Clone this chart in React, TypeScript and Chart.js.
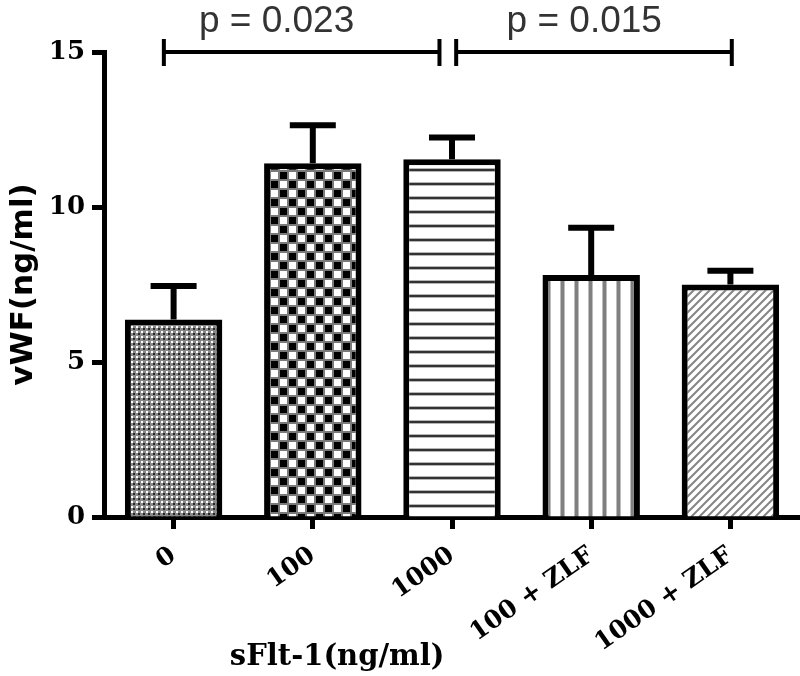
import React, { useEffect, useRef } from 'react';
import { Chart, registerables } from 'chart.js';

Chart.register(...registerables);

const categories = ['0', '100', '1000', '100 + ZLF', '1000 + ZLF'];
const means = [6.37, 11.41, 11.54, 7.81, 7.5];
const sems = [1.08, 1.23, 0.7, 1.52, 0.44];
const yMin = 0;
const yMax = 15;
const yStep = 5;
const yTitle = 'vWF(ng/ml)';
const xTitle = 'sFlt-1(ng/ml)';
const pLabels = ['p = 0.023', 'p = 0.015'];
const bracketFrom = [-0.07, 2.03];
const bracketTo = [1.91, 4.01];
const pLabelAt = [0.74, 2.95];
const bracketLevel = 15;
const patternKinds = ['dots', 'checker', 'hlines', 'vlines', 'diag'];

function makePattern(kind: string): CanvasPattern {
  const c = document.createElement('canvas');
  const g = c.getContext('2d') as CanvasRenderingContext2D;
  if (kind === 'dots') {
    c.width = 5; c.height = 5;
    g.fillStyle = '#8a8a8a'; g.fillRect(0, 0, 5, 5);
    g.fillStyle = '#ffffff'; g.fillRect(1, 1, 2, 2);
    g.fillStyle = '#2a2a2a'; g.fillRect(3, 3, 2, 2);
  } else if (kind === 'checker') {
    c.width = 18; c.height = 18;
    g.fillStyle = '#7a7a7a'; g.fillRect(0, 0, 18, 18);
    g.fillStyle = '#000000'; g.fillRect(1, 1, 7, 7); g.fillRect(10, 10, 7, 7);
    g.fillStyle = '#ffffff'; g.fillRect(10, 1, 7, 7); g.fillRect(1, 10, 7, 7);
  } else if (kind === 'hlines') {
    c.width = 4; c.height = 14;
    g.fillStyle = '#ffffff'; g.fillRect(0, 0, 4, 14);
    g.fillStyle = '#b5b5b5'; g.fillRect(0, 0, 4, 1); g.fillRect(0, 3, 4, 1);
    g.fillStyle = '#333333'; g.fillRect(0, 1, 4, 2);
  } else if (kind === 'vlines') {
    c.width = 14; c.height = 4;
    g.fillStyle = '#ffffff'; g.fillRect(0, 0, 14, 4);
    g.fillStyle = '#bdbdbd'; g.fillRect(0, 0, 1, 4); g.fillRect(4, 0, 1, 4);
    g.fillStyle = '#808080'; g.fillRect(1, 0, 3, 4);
  } else {
    c.width = 8; c.height = 8;
    g.fillStyle = '#ffffff'; g.fillRect(0, 0, 8, 8);
    g.strokeStyle = '#858585'; g.lineWidth = 2;
    g.beginPath();
    g.moveTo(-4, 4); g.lineTo(4, -4);
    g.moveTo(0, 8); g.lineTo(8, 0);
    g.moveTo(4, 12); g.lineTo(12, 4);
    g.stroke();
  }
  return g.createPattern(c, 'repeat') as CanvasPattern;
}

const errorBarPlugin = {
  id: 'errorBars',
  afterDatasetsDraw(chart: any) {
    const { ctx } = chart;
    const y = chart.scales.y;
    const meta = chart.getDatasetMeta(0);
    ctx.save();
    ctx.strokeStyle = '#000';
    ctx.lineWidth = 6;
    ctx.lineCap = 'butt';
    meta.data.forEach((bar: any, i: number) => {
      const top = y.getPixelForValue(means[i]);
      const cap = y.getPixelForValue(means[i] + sems[i]);
      ctx.beginPath();
      ctx.moveTo(bar.x, top);
      ctx.lineTo(bar.x, cap);
      ctx.moveTo(bar.x - 23, cap);
      ctx.lineTo(bar.x + 23, cap);
      ctx.stroke();
    });
    ctx.restore();
  },
};

const annotationPlugin = {
  id: 'annotations',
  afterDraw(chart: any) {
    const { ctx } = chart;
    const x = chart.scales.x;
    const y = chart.scales.y;
    ctx.save();
    const by = y.getPixelForValue(bracketLevel);
    ctx.strokeStyle = '#000';
    ctx.lineWidth = 4;
    for (let i = 0; i < pLabels.length; i++) {
      const x0 = x.getPixelForValue(bracketFrom[i]);
      const x1 = x.getPixelForValue(bracketTo[i]);
      ctx.beginPath();
      ctx.moveTo(x0, by); ctx.lineTo(x1, by);
      ctx.moveTo(x0, by - 13); ctx.lineTo(x0, by + 14);
      ctx.moveTo(x1, by - 13); ctx.lineTo(x1, by + 14);
      ctx.stroke();
      ctx.fillStyle = '#333';
      ctx.font = '37px "Liberation Sans"';
      ctx.textAlign = 'center';
      ctx.textBaseline = 'alphabetic';
      ctx.fillText(pLabels[i], x.getPixelForValue(pLabelAt[i]), by - 20);
    }
    ctx.save();
    ctx.translate(y.left + 24, (y.top + y.bottom) / 2);
    ctx.rotate(-Math.PI / 2);
    ctx.font = 'bold 31px "DejaVu Sans"';
    ctx.fillStyle = '#000';
    ctx.textAlign = 'center';
    ctx.textBaseline = 'middle';
    ctx.fillText(yTitle, 0, 0);
    ctx.restore();
    ctx.font = 'bold 29px "DejaVu Serif"';
    ctx.fillStyle = '#000';
    ctx.textAlign = 'center';
    ctx.textBaseline = 'alphabetic';
    ctx.fillText(xTitle, x.left + 0.335 * x.width, x.bottom - 11);
    ctx.restore();
  },
};

export default function App() {
  const ref = useRef<HTMLCanvasElement | null>(null);
  useEffect(() => {
    if (!ref.current) return;
    const chart = new Chart(ref.current, {
      type: 'bar',
      data: {
        labels: categories,
        datasets: [
          {
            data: means,
            backgroundColor: patternKinds.map(makePattern) as any,
            borderColor: '#000',
            borderWidth: 6,
            barPercentage: 0.7,
            categoryPercentage: 1,
          },
        ],
      },
      options: {
        animation: false,
        responsive: true,
        maintainAspectRatio: false,
        devicePixelRatio: 1,
        layout: { padding: { top: 52, left: 0, right: 0, bottom: 0 } },
        plugins: { legend: { display: false }, tooltip: { enabled: false } },
        scales: {
          x: {
            type: 'category',
            offset: true,
            z: 1,
            afterFit: (s: any) => { s.height = 159; },
            grid: {
              offset: false,
              drawOnChartArea: false,
              drawTicks: true,
              tickLength: 12,
              tickWidth: 5,
              tickColor: '#000',
            },
            border: { display: true, width: 5, color: '#000' },
            ticks: {
              autoSkip: false,
              minRotation: 35,
              maxRotation: 35,
              padding: 12,
              color: '#000',
              font: { family: 'DejaVu Serif', weight: 'bold', size: 25 },
            },
          },
          y: {
            min: yMin,
            max: yMax,
            z: 1,
            afterFit: (s: any) => { s.width = 104; },
            grid: {
              drawOnChartArea: false,
              drawTicks: true,
              tickLength: 12,
              tickWidth: 5,
              tickColor: '#000',
            },
            border: { display: true, width: 5, color: '#000' },
            ticks: {
              stepSize: yStep,
              padding: 7,
              color: '#000',
              font: { family: 'DejaVu Serif', weight: 'bold', size: 26 },
            },
          },
        },
      },
      plugins: [errorBarPlugin, annotationPlugin],
    } as any);
    return () => chart.destroy();
  }, []);
  return (
    <div style={{ position: 'absolute', left: 0, top: 0, width: 800, height: 676 }}>
      <canvas ref={ref} />
    </div>
  );
}
